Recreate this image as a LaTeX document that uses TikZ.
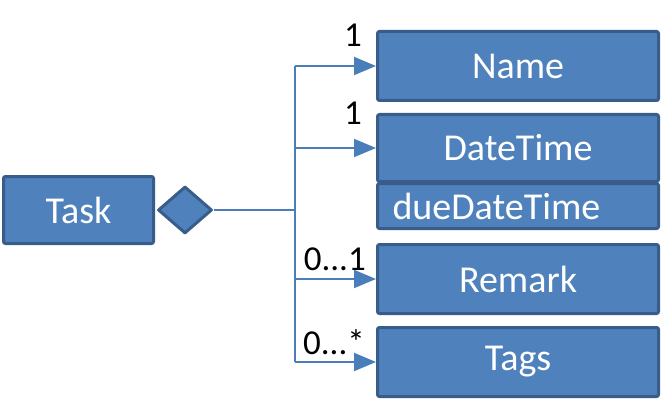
\documentclass[tikz,border=0pt]{standalone}
\usepackage{fontspec}
\setmainfont{Carlito}
\usepackage{xcolor}
\usepackage{tikz}
\usetikzlibrary{shapes.geometric, positioning, arrows.meta}
\definecolor{boxfill}{HTML}{4F81BD}
\definecolor{boxline}{HTML}{385D8A}
\definecolor{linkblue}{HTML}{4A7EBB}

\begin{document}
\begin{tikzpicture}[x=1pt, y=-1pt, >={Triangle[length=22pt, width=18pt]}, node distance=0pt,
  cls/.style={draw=boxline, fill=boxfill, line width=3pt, rounded corners=2pt, minimum width=281pt, minimum height=69pt, align=center, text=white, font=\fontsize{38}{42}\selectfont},
  attr/.style={cls, minimum height=45pt, inner xsep=15pt, text width=251pt, align=left},
  agg/.style={draw=boxline, fill=boxfill, line width=3pt, line join=round, diamond, minimum width=54pt, minimum height=47pt, inner sep=0pt},
  mult/.style={inner sep=0pt, font=\fontsize{35}{38}\selectfont},
  link/.style={draw=linkblue, line width=2pt}]

  \useasboundingbox (0,0) rectangle (663,409);

  \node[cls, minimum width=150pt, minimum height=67pt] (task) at (78.5,210) {Task};

  \node[agg, right=1.5pt of task] (agg) {};

  \coordinate[right=81pt of agg.east] (hub);

  \node[cls] (name) at (518,66) {Name};

  \node[cls, minimum height=67pt, below=11pt of name] (datetime) {DateTime};

  \node[attr, below=-1pt of datetime] (due) {dueDateTime};

  \node[cls, below=13pt of due] (remark) {Remark};

  \node[cls, below=11pt of remark] (tags) {Tags};

  \node[mult, above left=19pt and 14pt of name.west] (multname) {1};
  \node[mult, above left=23pt and 14pt of datetime.west] (multdate) {1};
  \node[mult, above left=8pt and 10pt of remark.west] (multremark) {0...1};
  \node[mult, above left=7pt and 11pt of tags.west] (multtags) {0...*};

  \draw[link] (agg) -- (hub);
  \draw[link] (hub |- name.west) -- (hub |- tags.west);
  \draw[link, ->] (hub |- name.west) -- (name.west);
  \draw[link, ->] (hub |- datetime.west) -- (datetime.west);
  \draw[link, ->] (hub |- remark.west) -- (remark.west);
  \draw[link, ->] (hub |- tags.west) -- (tags.west);
\end{tikzpicture}
\end{document}
